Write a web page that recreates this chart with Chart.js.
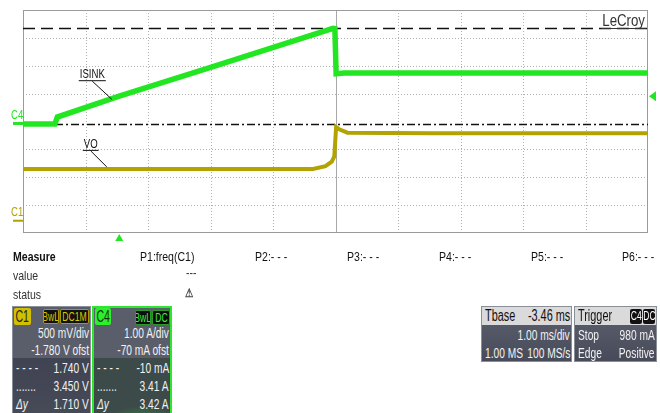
<!DOCTYPE html>
<html>
<head>
<meta charset="utf-8">
<script src="https://cdn.jsdelivr.net/npm/chart.js@4.4.1/dist/chart.umd.min.js"></script>
<style>
  html, body { margin: 0; padding: 0; background: #fff; }
  body { width: 660px; height: 413px; position: relative; overflow: hidden;
         font-family: "Liberation Sans", Arial, sans-serif; }
  #scope { position: absolute; left: 0; top: 0; }
  .t { position: absolute; font-size: 13.5px; color: #111; white-space: nowrap; line-height: 1;
       transform: scaleX(0.78); transform-origin: left top; }
  .panel { position: absolute; box-sizing: border-box; overflow: hidden; }
  .row { position: absolute; left: 0; right: 0; height: 18px; font-size: 15px; color: #f2f2f2; line-height: 18px; white-space: nowrap; }
  .row .l { position: absolute; left: 3px; transform: scaleX(0.68); transform-origin: left center; }
  .row .r { position: absolute; right: 1px; transform: scaleX(0.68); transform-origin: right center; }
  .tag { position: absolute; top: 2px; height: 15px; line-height: 14px; font-size: 13px; border-radius: 2px; box-sizing: border-box; text-align: center; overflow: hidden; white-space: nowrap; }
  .tag span { display: inline-block; transform: scaleX(0.66); transform-origin: center; margin: 0 -8px; }
</style>
</head>
<body>
<canvas id="scope" width="660" height="413"></canvas>

<!-- measurement line -->
<div class="t" style="left:13px;top:250px;font-weight:bold;">Measure</div>
<div class="t" style="left:140px;top:250px;">P1:freq(C1)</div>
<div class="t" style="left:255px;top:250px;">P2:- - -</div>
<div class="t" style="left:347px;top:250px;">P3:- - -</div>
<div class="t" style="left:439px;top:250px;">P4:- - -</div>
<div class="t" style="left:531px;top:250px;">P5:- - -</div>
<div class="t" style="left:622px;top:250px;">P6:- - -</div>
<div class="t" style="left:13px;top:269px;color:#333;">value</div>
<div class="t" style="left:186px;top:266px;color:#333;">---</div>
<div class="t" style="left:13px;top:288px;color:#333;">status</div>
<div class="t" style="left:185px;top:287px;color:#444;font-size:12px;font-weight:bold;">&#9888;</div>

<!-- C1 channel box -->
<div class="panel" style="left:12px;top:306px;width:79px;height:110px;border:1px solid #8a8e98;background:#5a5e6b;">
  <div style="position:absolute;left:0;right:0;top:51px;bottom:0;background:linear-gradient(#3f4352,#474b58);"></div>
  <div class="tag" style="left:1px;top:1px;width:17px;height:17px;line-height:17px;background:#d2c000;color:#222;font-size:16px;"><span>C1</span></div>
  <div class="tag" style="left:30px;width:16px;background:#111;color:#d8c800;border:1px solid #a89a00;"><span>BwL</span></div>
  <div class="tag" style="left:47px;width:29px;background:#111;color:#d8c800;border:1px solid #a89a00;"><span>DC1M</span></div>
  <div class="row" style="top:17px;"><span class="r">500 mV/div</span></div>
  <div class="row" style="top:34px;"><span class="r">-1.780 V ofst</span></div>
  <div class="row" style="top:52px;"><span class="l">- - - -</span><span class="r">1.740 V</span></div>
  <div class="row" style="top:70px;"><span class="l">.......</span><span class="r">3.450 V</span></div>
  <div class="row" style="top:88px;"><span class="l" style="font-style:italic;">&Delta;y</span><span class="r">1.710 V</span></div>
</div>

<!-- C4 channel box -->
<div class="panel" style="left:92px;top:306px;width:80px;height:110px;border:2px solid #2ee62e;background:#5a5e6b;">
  <div style="position:absolute;left:0;right:0;top:50px;bottom:0;background:radial-gradient(ellipse 60px 50px at 48px 98px,#2ee82e 0%,#27b030 45%,#3d4a4a 100%);"></div>
  <div class="tag" style="left:1px;top:0px;width:16px;height:17px;line-height:17px;background:#2cf02c;color:#183018;font-size:16px;"><span>C4</span></div>
  <div class="tag" style="left:41px;width:16px;background:#0d0d0d;color:#3cf03c;border:1px solid #2a9a2a;"><span>BwL</span></div>
  <div class="tag" style="left:58px;width:18px;background:#0d0d0d;color:#3cf03c;border:1px solid #2a9a2a;"><span>DC</span></div>
  <div class="row" style="top:16px;"><span class="r">1.00 A/div</span></div>
  <div class="row" style="top:33px;"><span class="r">-70 mA ofst</span></div>
  <div class="row" style="top:51px;"><span class="l">- - - -</span><span class="r">-10 mA</span></div>
  <div class="row" style="top:69px;"><span class="l">.......</span><span class="r">3.41 A</span></div>
  <div class="row" style="top:87px;"><span class="l" style="font-style:italic;">&Delta;y</span><span class="r">3.42 A</span></div>
</div>

<!-- timebase box -->
<div class="panel" style="left:481px;top:306px;width:91px;height:56px;border:1px solid #8a8e98;background:linear-gradient(#5d6170,#474b59);">
  <div style="position:absolute;left:0;right:0;top:0;height:18px;background:#dadada;"></div>
  <div class="row" style="top:0px;color:#111;font-size:16px;"><span class="l">Tbase</span><span class="r">-3.46 ms</span></div>
  <div class="row" style="top:19px;"><span class="r">1.00 ms/div</span></div>
  <div class="row" style="top:37px;"><span class="l">1.00 MS</span><span class="r">100 MS/s</span></div>
</div>

<!-- trigger box -->
<div class="panel" style="left:574px;top:306px;width:83px;height:56px;border:1px solid #8a8e98;background:linear-gradient(#5d6170,#474b59);">
  <div style="position:absolute;left:0;right:0;top:0;height:18px;background:#dadada;"></div>
  <div class="row" style="top:0px;color:#111;font-size:16px;"><span class="l">Trigger</span></div>
  <div class="tag" style="left:55px;top:2px;width:12px;background:#111;color:#fff;"><span>C4</span></div>
  <div class="tag" style="left:68px;top:2px;width:12px;background:#111;color:#fff;"><span>DC</span></div>
  <div class="row" style="top:19px;"><span class="l">Stop</span><span class="r">980 mA</span></div>
  <div class="row" style="top:37px;"><span class="l">Edge</span><span class="r">Positive</span></div>
</div>

<script>
// Time in ms relative to the trigger; screen spans 10 div at 1.00 ms/div
const timeMin = -1.54;
const timeMax = 8.46;

// C4 (sink current, A): 1.00 A/div, -70 mA offset -> centre at 0.07 A
const c4Center = 0.07;
const c4PerDiv = 1.0;
// C1 (output voltage, V): 500 mV/div, -1.780 V offset -> centre at 1.78 V
const c1Center = 1.78;
const c1PerDiv = 0.5;

// ISINK trace samples
const isinkTime  = [-1.54, -1.03, -0.99, 0.0, 1.5, 3.42, 3.45, 3.47, 3.6, 5.0, 8.46];
const isinkValue = [-0.02, -0.02, 0.23, 0.98, 2.04, 3.41, 3.40, 1.78, 1.81, 1.81, 1.81];

// VO trace samples
const voTime  = [-1.54, 3.1, 3.3, 3.4, 3.44, 3.47, 3.52, 3.65, 5.0, 8.46];
const voValue = [0.93, 0.93, 0.98, 1.06, 1.15, 1.68, 1.64, 1.58, 1.57, 1.57];

// Cursor levels on C4
const cursorDashed = 3.41;
const cursorDashDot = -0.01;
// Trigger level on C4 and trigger time
const triggerLevel = 0.98;
const triggerTime = 0;

const pts = (xs, ys) => xs.map((x, i) => ({ x: x, y: ys[i] }));
const FONT = '"Liberation Sans", Arial, sans-serif';

// draw horizontally condensed text
function narrowText(ctx, text, x, y, k, align) {
  ctx.save();
  ctx.translate(x, y);
  ctx.scale(k, 1);
  ctx.textAlign = align || 'left';
  ctx.fillText(text, 0, 0);
  ctx.restore();
  return ctx.measureText(text).width * k;
}

const scopeDecor = {
  id: 'scopeDecor',
  beforeDatasetsDraw(chart) {
    const { ctx, chartArea: a, scales } = chart;
    const gx = scales.gx, gy = scales.gy;
    ctx.save();
    // dotted division grid
    ctx.strokeStyle = '#b0b0b0';
    ctx.lineWidth = 1;
    ctx.setLineDash([1, 2]);
    for (let i = 1; i < 10; i++) {
      if (i === 5) continue;
      const x = Math.round(gx.getPixelForValue(i)) + 0.5;
      ctx.beginPath(); ctx.moveTo(x, a.top); ctx.lineTo(x, a.bottom); ctx.stroke();
    }
    for (let j = 1; j < 8; j++) {
      if (j === 4) continue;
      const y = Math.round(gy.getPixelForValue(j)) + 0.5;
      ctx.beginPath(); ctx.moveTo(a.left, y); ctx.lineTo(a.right, y); ctx.stroke();
    }
    ctx.setLineDash([]);
    // solid centre vertical axis
    const cx = Math.round(gx.getPixelForValue(5)) + 0.5;
    ctx.strokeStyle = '#a8a8a8';
    ctx.beginPath(); ctx.moveTo(cx, a.top); ctx.lineTo(cx, a.bottom); ctx.stroke();
    // frame
    ctx.strokeStyle = '#9a9a9a';
    ctx.strokeRect(a.left + 0.5, a.top + 0.5, a.right - a.left - 1, a.bottom - a.top - 1);

    // cursors on the C4 scale
    const yA = scales.yA;
    ctx.strokeStyle = '#111';
    ctx.lineWidth = 1.5;
    let y = Math.round(yA.getPixelForValue(cursorDashed)) + 0.5;
    ctx.setLineDash([12, 6]);
    ctx.beginPath(); ctx.moveTo(a.left, y); ctx.lineTo(a.right, y); ctx.stroke();
    y = Math.round(yA.getPixelForValue(cursorDashDot)) + 0.5;
    ctx.setLineDash([8, 3, 2, 3]);
    ctx.beginPath(); ctx.moveTo(a.left, y); ctx.lineTo(a.right, y); ctx.stroke();
    ctx.restore();
  },
  afterDatasetsDraw(chart) {
    const { ctx, chartArea: a, scales } = chart;
    const x = scales.x, yA = scales.yA, yV = scales.yV;
    ctx.save();
    ctx.font = '12px ' + FONT;
    ctx.textBaseline = 'alphabetic';

    // channel ground markers at left edge
    const g4 = yA.getPixelForValue(0);
    ctx.fillStyle = '#22e622';
    narrowText(ctx, 'C4', 11, g4 - 4, 0.8);
    ctx.strokeStyle = '#22e622'; ctx.lineWidth = 3;
    ctx.beginPath(); ctx.moveTo(13, g4); ctx.lineTo(a.left, g4); ctx.stroke();
    const g1 = yV.getPixelForValue(0);
    ctx.fillStyle = '#b3a300';
    narrowText(ctx, 'C1', 11, g1 - 5, 0.8);
    ctx.strokeStyle = '#b3a300'; ctx.lineWidth = 2;
    ctx.beginPath(); ctx.moveTo(13, g1); ctx.lineTo(a.left, g1); ctx.stroke();

    // trace labels with leader lines
    ctx.fillStyle = '#111'; ctx.strokeStyle = '#111'; ctx.lineWidth = 1;
    const label = (text, tx, ty, px, py) => {
      const w = narrowText(ctx, text, tx, ty, 0.8);
      ctx.beginPath(); ctx.moveTo(tx - 1, ty + 2.5); ctx.lineTo(tx + w + 1, ty + 2.5); ctx.stroke();
      ctx.beginPath(); ctx.moveTo(tx + w * 0.5, ty + 3); ctx.lineTo(px, py); ctx.stroke();
    };
    const ip = { x: x.getPixelForValue(-0.12), y: yA.getPixelForValue(0.87) };
    label('ISINK', ip.x - 32, ip.y - 21, ip.x, ip.y);
    const vp = { x: x.getPixelForValue(-0.2), y: yV.getPixelForValue(0.93) };
    label('VO', vp.x - 23, vp.y - 21, vp.x, vp.y - 2);

    // brand mark
    ctx.font = '17px ' + FONT;
    ctx.fillStyle = '#333';
    const bw = narrowText(ctx, 'LeCroy', a.right - 3, a.top + 16, 0.78, 'right');
    ctx.strokeStyle = '#333'; ctx.lineWidth = 1.2;
    ctx.beginPath(); ctx.moveTo(a.right - 4 - bw, a.top + 18.5); ctx.lineTo(a.right - 2, a.top + 18.5); ctx.stroke();

    // trigger markers
    ctx.fillStyle = '#22e622';
    const tx = x.getPixelForValue(triggerTime);
    ctx.beginPath(); ctx.moveTo(tx, a.bottom + 1); ctx.lineTo(tx - 4, a.bottom + 8); ctx.lineTo(tx + 4, a.bottom + 8); ctx.closePath(); ctx.fill();
    const ty = yA.getPixelForValue(triggerLevel);
    ctx.beginPath(); ctx.moveTo(a.right + 1, ty); ctx.lineTo(a.right + 8, ty - 5); ctx.lineTo(a.right + 8, ty + 5); ctx.closePath(); ctx.fill();
    ctx.restore();
  }
};

new Chart(document.getElementById('scope'), {
  type: 'line',
  data: {
    datasets: [
      { label: 'VO', data: pts(voTime, voValue), xAxisID: 'x', yAxisID: 'yV',
        borderColor: '#b3a300', borderWidth: 4, pointRadius: 0, tension: 0 },
      { label: 'ISINK', data: pts(isinkTime, isinkValue), xAxisID: 'x', yAxisID: 'yA',
        borderColor: '#22e622', borderWidth: 5.5, pointRadius: 0, tension: 0 }
    ]
  },
  options: {
    responsive: false,
    animation: false,
    layout: { padding: { left: 23, top: 10, right: 12, bottom: 180 } },
    plugins: { legend: { display: false }, tooltip: { enabled: false } },
    scales: {
      x:  { type: 'linear', axis: 'x', position: 'bottom', display: false, min: timeMin, max: timeMax },
      gx: { type: 'linear', axis: 'x', position: 'bottom', display: false, min: 0, max: 10 },
      yA: { type: 'linear', axis: 'y', position: 'left', display: false, min: c4Center - 4 * c4PerDiv, max: c4Center + 4 * c4PerDiv },
      yV: { type: 'linear', axis: 'y', position: 'left', display: false, min: c1Center - 4 * c1PerDiv, max: c1Center + 4 * c1PerDiv },
      gy: { type: 'linear', axis: 'y', position: 'left', display: false, min: 0, max: 8 }
    }
  },
  plugins: [scopeDecor]
});
</script>
</body>
</html>
